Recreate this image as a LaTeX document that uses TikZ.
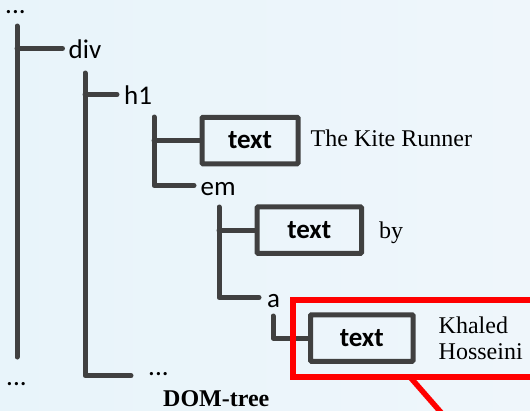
\documentclass[tikz,border=0pt]{standalone}
\usepackage{fontspec}
\setmainfont{Liberation Serif}
\newfontfamily\tagfont{Carlito}
\usetikzlibrary{positioning}
\definecolor{treegray}{HTML}{404040}
\definecolor{bgleft}{HTML}{E8F4FA}
\definecolor{bgright}{HTML}{EFF6FB}
\definecolor{markred}{HTML}{FF0000}
\tikzset{
  branch/.style={draw=treegray, line width=5pt, line cap=round, line join=round},
  tag/.style={font=\tagfont\fontsize{27}{30}\selectfont, inner sep=0,
    text height=19pt, text depth=0pt, anchor=base west},
  dots/.style={tag, text height=4pt},
  textbox/.style={draw=treegray, line width=5pt, minimum height=46.5pt, inner sep=0,
    rounded corners=1pt, font=\tagfont\bfseries\fontsize{27}{30}\selectfont},
  content/.style={font=\fontsize{24}{26}\selectfont, inner sep=0, align=left},
  oneline/.style={content, text height=16pt, text depth=5pt},
  highlight/.style={draw=markred, line width=5.5pt, outer sep=0}
}

\begin{document}
\begin{tikzpicture}[x=1pt, y=-1pt]
  \path[use as bounding box, left color=bgleft, right color=bgright] (0,0) rectangle (530,410);

  \node[dots] (dotstop) at (5,13.5) {...};
  \node[tag] (div) at (68.5,58) {div};
  \node[dots] (dotsend) at (6,385) {...};
  \coordinate (trunkA) at (17,26);
  \coordinate (trunkAend) at (17,357);
  \draw[branch] (trunkA) -- (trunkAend);
  \draw[branch] (trunkA |- div.west) -- ([xshift=-6pt]div.west);

  \node[tag] (hone) at (124,104) {h1};
  \node[dots] (dotsdiv) at (148,375.6) {...};
  \coordinate (trunkB) at (85,73);
  \draw[branch] (trunkB) |- ([xshift=-17pt]dotsdiv.base west);
  \draw[branch] (trunkB |- hone.west) -- ([xshift=-7pt]hone.west);

  \node[textbox, minimum width=96pt] (boxA) at (250,140.5) {text};
  \node[tag] (em) at (200.5,195) {em};
  \coordinate (trunkC) at (154,117);
  \draw[branch] (trunkC |- boxA.west) -- (boxA.west);
  \draw[branch] (trunkC) |- ([xshift=-6.5pt]em.west);
  \node[oneline, right=10pt of boxA] (title) {The Kite Runner};

  \node[textbox, minimum width=104.5pt] (boxB) at (309.25,230.2) {text};
  \node[tag] (a) at (267,307) {a};
  \coordinate (trunkD) at (219,207);
  \draw[branch] (trunkD |- boxB.west) -- (boxB.west);
  \draw[branch] (trunkD) |- ([xshift=-8pt]a.west);
  \node[oneline, right=15pt of boxB, yshift=-2.5pt] (by) {by};

  \node[textbox, minimum width=102.5pt] (boxC) at (361.75,338) {text};
  \coordinate (trunkE) at (273,316);
  \draw[branch] (trunkE) |- (boxC.west);
  \node[content, right=23pt of boxC] (author) {Khaled\\Hosseini};

  \node[highlight, anchor=north west, minimum width=270pt, minimum height=77pt] (hl) at (293,300) {};
  \coordinate (lead) at (452,425);
  \draw[highlight] ([xshift=117pt]hl.south west) -- (lead);

  \node[font=\bfseries\fontsize{24}{26}\selectfont, inner sep=0, anchor=base west] (caption) at (163,406) {DOM-tree};
\end{tikzpicture}
\end{document}
